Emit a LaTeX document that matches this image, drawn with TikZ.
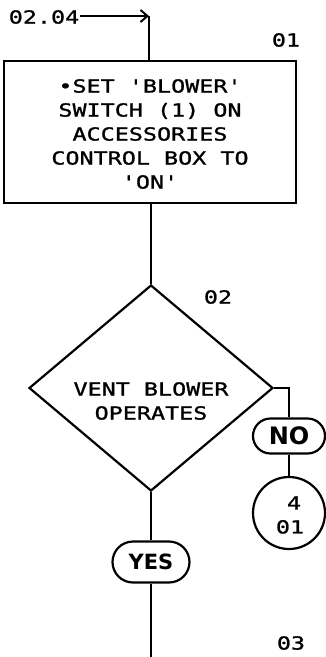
\documentclass[tikz,border=0pt]{standalone}
\usepackage{fontspec}
\usetikzlibrary{shapes.geometric,shapes.misc,arrows.meta}
\newfontfamily\plotfont[FakeStretch=1.3,FakeBold=1.2]{DejaVu Sans Mono}
\newfontfamily\pillfont{DejaVu Sans}
\begin{document}
\begin{tikzpicture}[x=1pt,y=-1pt,
  line width=2.2pt,
  plot/.style={font=\plotfont\fontsize{18}{24}\selectfont, inner sep=0pt, align=center},
  pill/.style={draw, rounded rectangle, inner sep=0pt},
  conn/.style={line width=2.2pt}
]
\useasboundingbox (0,0) rectangle (326,657);
% labels
\node[plot] (src) at (44,17) {02.04};
\node[plot] (n01) at (286,40) {01};
\node[plot] (n02) at (218,297) {02};
\node[plot] (n03) at (291,643) {03};
% step 01 box
\node[draw, minimum width=292pt, minimum height=142pt, inner sep=0pt] (box) at (150,132) {};
\node[plot] (boxtxt) at (150,134) {•SET 'BLOWER'\\SWITCH (1) ON\\ACCESSORIES\\CONTROL BOX TO\\'ON'};
% entry arrow
\coordinate (corner) at (149,16);
\draw[conn, -{Straight Barb[length=7pt,width=12pt,line width=2pt]}] (src.east |- corner) -- (corner);
\draw[conn] (corner) -- (corner |- box.north);
% diamond
\node[draw, diamond, minimum width=244pt, minimum height=206pt, inner sep=0pt] (dia) at (151,388) {};
\node[plot] (diatxt) at (151,401) {VENT BLOWER\\OPERATES};
\draw[conn] (box.south -| dia.north) -- (dia.north);
% NO branch
\node[pill, minimum width=72pt, minimum height=35pt, font=\pillfont\bfseries\fontsize{24}{24}\selectfont] (no) at (289,436) {NO};
\coordinate (noturn) at (289,388);
\draw[conn] (dia.east) -- (noturn) -- (no.north);
\node[draw, circle, minimum size=72pt, inner sep=0pt] (conn4) at (289,513) {};
\node[plot] (conntxt) at (290,515) {\hspace*{8pt}4\\01};
\draw[conn] (no.south) -- (conn4.north);
% YES branch
\node[pill, minimum width=77pt, minimum height=41pt, font=\pillfont\bfseries\fontsize{21}{21}\selectfont] (yes) at (151,562) {YES};
\draw[conn] (dia.south) -- (yes.north);
\coordinate (out) at (151,657);
\draw[conn] (yes.south) -- (out);
\end{tikzpicture}
\end{document}
